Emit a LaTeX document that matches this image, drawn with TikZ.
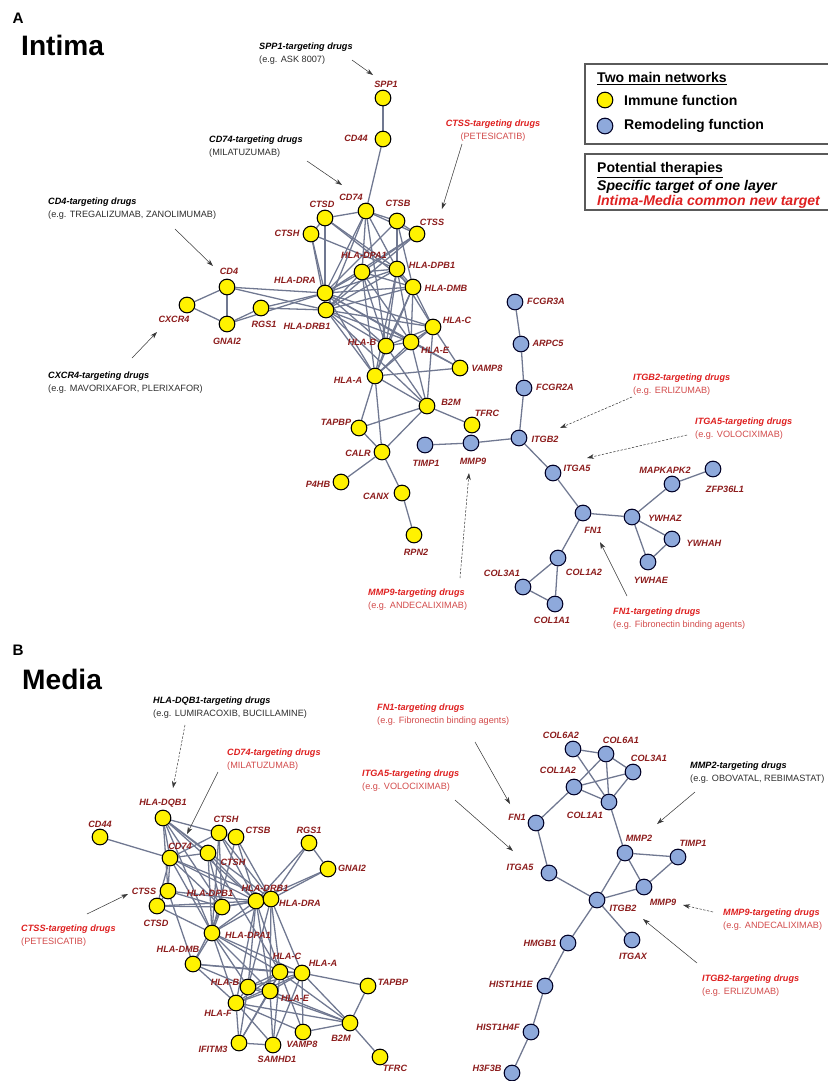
\documentclass[tikz,border=0pt]{standalone}
\usepackage{fontspec}
\setmainfont{Liberation Sans}
\usetikzlibrary{arrows.meta,backgrounds}
\definecolor{nodeyellow}{RGB}{255,242,0}
\definecolor{nodeblue}{RGB}{142,169,219}
\definecolor{edgecol}{RGB}{112,120,145}
\definecolor{genered}{RGB}{140,28,28}
\definecolor{drugred}{RGB}{222,32,32}
\definecolor{drugredlt}{RGB}{210,75,75}
\definecolor{subgray}{RGB}{45,45,45}
\definecolor{arrowcol}{RGB}{55,55,55}
\definecolor{boxcol}{RGB}{90,90,90}
\tikzset{
  yn/.style={circle,draw=black,line width=0.9pt,fill=nodeyellow,minimum size=0.47cm,inner sep=0pt},
  bn/.style={circle,draw=black!85!blue,line width=0.9pt,fill=nodeblue,minimum size=0.47cm,inner sep=0pt},
  gl/.style={font=\bfseries\itshape\fontsize{7.8}{9}\selectfont,text=genered,inner sep=0pt},
  ed/.style={draw=edgecol,line width=1.1pt},
  arr/.style={draw=arrowcol,line width=0.45pt,-{Stealth[length=6pt,width=4pt]}},
  darr/.style={arr,dash pattern=on 2pt off 1.3pt},
  dtext/.style={anchor=west,align=left,inner sep=0pt,font=\fontsize{7.8}{11}\selectfont},
  ctext/.style={anchor=center,align=center,inner sep=0pt,font=\fontsize{7.8}{11}\selectfont},
  ttl/.style={anchor=west,inner sep=0pt,font=\bfseries\fontsize{24}{28}\selectfont},
  plab/.style={anchor=center,inner sep=0pt,font=\bfseries\fontsize{13}{15}\selectfont},
  legt/.style={anchor=west,inner sep=0pt,font=\bfseries\fontsize{12}{14}\selectfont},
  legbox/.style={draw=boxcol,line width=1.3pt}
}
\newcommand{\gnode}[5]{\node[#1] (#2) at (#3) {}; \node[gl] (#2-l) at (#4) {#5};}
\newcommand{\drugB}[4]{\node[dtext] (#1) at (#2) {\textbf{\textit{#3}}\\{\color{subgray}#4}};}
\newcommand{\drugR}[4]{\node[dtext] (#1) at (#2) {{\color{drugred}\textbf{\textit{#3}}}\\{\color{drugredlt}#4}};}
\begin{document}
\begin{tikzpicture}[x=0.03cm,y=-0.03cm]
\useasboundingbox (0,0) rectangle (827,1081);

% ---------- Panel A ----------
\node[plab] (pa) at (18,18) {A};
\node[ttl] (tintima) at (21,45) {Intima};

% legend
\draw[legbox] (585,64) rectangle (850,144);
\draw[legbox] (585,154) rectangle (850,210);
\node[legt] (lg1) at (597,79) {\underline{Two main networks}};
\node[yn] (lgy) at (605,100) {};
\node[legt] (lgy-t) at (624,100) {Immune function};
\node[bn] (lgb) at (605,126) {};
\node[legt] (lgb-t) at (624,126) {Remodeling function};
\node[legt] (lg2) at (597,170) {\underline{Potential therapies}};
\node[legt] (lg3) at (597,187) {\textit{Specific target of one layer}};
\node[legt,text=drugred] (lg4) at (597,202) {\textit{Intima-Media common new target}};

% Intima immune nodes
\gnode{yn}{spp1}{383,98}{386,84}{SPP1}
\gnode{yn}{cd44i}{383,139}{356,138}{CD44}
\gnode{yn}{cd74}{366,211}{351,197}{CD74}
\gnode{yn}{ctsd}{325,218}{322,204}{CTSD}
\gnode{yn}{ctsb}{397,221}{398,203}{CTSB}
\gnode{yn}{ctss}{417,234}{432,222}{CTSS}
\gnode{yn}{ctsh}{311,234}{287,233}{CTSH}
\gnode{yn}{dpa1}{362,272}{364,255}{HLA-DPA1}
\gnode{yn}{dpb1}{397,269}{432,265}{HLA-DPB1}
\gnode{yn}{dmb}{413,287}{446,288}{HLA-DMB}
\gnode{yn}{dra}{325,293}{295,280}{HLA-DRA}
\gnode{yn}{drb1}{326,310}{307,326}{HLA-DRB1}
\gnode{yn}{hlac}{433,327}{457,320}{HLA-C}
\gnode{yn}{hlab}{386,346}{362,342}{HLA-B}
\gnode{yn}{hlae}{411,342}{435,350}{HLA-E}
\gnode{yn}{hlaa}{375,376}{348,380}{HLA-A}
\gnode{yn}{vamp8}{460,368}{487,368}{VAMP8}
\gnode{yn}{b2m}{427,406}{451,402}{B2M}
\gnode{yn}{tfrc}{472,425}{487,413}{TFRC}
\gnode{yn}{tapbp}{359,428}{336,422}{TAPBP}
\gnode{yn}{calr}{382,452}{358,453}{CALR}
\gnode{yn}{p4hb}{341,482}{318,484}{P4HB}
\gnode{yn}{canx}{402,493}{376,496}{CANX}
\gnode{yn}{rpn2}{414,535}{416,552}{RPN2}
\gnode{yn}{cd4}{227,287}{229,271}{CD4}
\gnode{yn}{cxcr4}{187,305}{174,319}{CXCR4}
\gnode{yn}{rgs1}{261,308}{264,324}{RGS1}
\gnode{yn}{gnai2}{227,324}{227,341}{GNAI2}

% Intima remodeling nodes
\gnode{bn}{fcgr3a}{515,302}{546,301}{FCGR3A}
\gnode{bn}{arpc5}{521,344}{548,343}{ARPC5}
\gnode{bn}{fcgr2a}{524,388}{555,387}{FCGR2A}
\gnode{bn}{itgb2}{519,438}{545,439}{ITGB2}
\gnode{bn}{timp1}{425,445}{426,463}{TIMP1}
\gnode{bn}{mmp9}{471,443}{473,461}{MMP9}
\gnode{bn}{itga5}{553,473}{577,468}{ITGA5}
\gnode{bn}{fn1}{583,513}{593,530}{FN1}
\gnode{bn}{ywhaz}{632,517}{665,518}{YWHAZ}
\gnode{bn}{mapkapk2}{672,484}{665,470}{MAPKAPK2}
\gnode{bn}{zfp36l1}{713,469}{725,489}{ZFP36L1}
\gnode{bn}{ywhah}{672,539}{704,543}{YWHAH}
\gnode{bn}{ywhae}{648,562}{651,580}{YWHAE}
\gnode{bn}{col1a2}{558,558}{584,572}{COL1A2}
\gnode{bn}{col3a1}{523,587}{502,573}{COL3A1}
\gnode{bn}{col1a1}{555,604}{552,620}{COL1A1}

\begin{pgfonlayer}{background}
\foreach \a/\b in {spp1/cd44i,cd44i/cd74,
 cd4/cxcr4,cxcr4/gnai2,cd4/gnai2,gnai2/rgs1,cd4/dra,cd4/drb1,rgs1/dra,rgs1/drb1,gnai2/dra,
 ctsd/cd74,ctsd/ctsh,ctsh/dra,ctsd/dra,ctsh/drb1,cd74/ctsb,ctsb/ctss,cd74/dra,cd74/dpa1,cd74/dpb1,cd74/drb1,cd74/ctss,cd74/hlab,
 ctsd/dpb1,ctsh/dpb1,ctss/dra,ctss/dpa1,ctss/drb1,ctsb/dra,ctsb/dpb1,ctsb/dmb,ctsd/dmb,
 dpa1/dra,dpa1/drb1,dpa1/dpb1,dpb1/dra,dpb1/drb1,dmb/dra,dmb/drb1,dmb/dpa1,dmb/dpb1,dmb/hlac,dmb/hlab,dmb/hlae,dmb/hlaa,
 dra/hlac,dra/hlab,dra/hlae,dra/hlaa,drb1/hlaa,drb1/hlab,drb1/hlac,drb1/hlae,drb1/b2m,dra/vamp8,
 dpa1/hlaa,dpa1/hlab,dpa1/hlae,dpb1/hlaa,dpb1/hlab,dpb1/hlae,dpb1/hlac,
 hlac/hlab,hlac/hlae,hlac/hlaa,hlac/vamp8,hlac/b2m,hlab/hlae,hlab/hlaa,hlab/b2m,hlae/hlaa,hlae/b2m,hlae/vamp8,
 hlaa/vamp8,hlaa/b2m,hlaa/tapbp,hlaa/calr,b2m/tapbp,b2m/calr,b2m/tfrc,tapbp/calr,calr/p4hb,calr/canx,canx/rpn2,
 fcgr3a/arpc5,arpc5/fcgr2a,fcgr2a/itgb2,itgb2/mmp9,mmp9/timp1,itgb2/itga5,itga5/fn1,fn1/ywhaz,fn1/col1a2,
 col1a2/col3a1,col1a2/col1a1,col3a1/col1a1,ywhaz/mapkapk2,mapkapk2/zfp36l1,ywhaz/ywhah,ywhaz/ywhae,ywhah/ywhae}
 \draw[ed] (\a) -- (\b);
\end{pgfonlayer}

% Intima annotations
\drugB{dspp1}{259,53.5}{SPP1-targeting drugs}{(e.g. ASK 8007)}
\drugB{dcd74}{209,147}{CD74-targeting drugs}{(MILATUZUMAB)}
\node[ctext] (dctss) at (493,130.5) {{\color{drugred}\textbf{\textit{CTSS-targeting drugs}}}\\{\color{drugredlt}(PETESICATIB)}};
\drugB{dcd4}{48,208.5}{CD4-targeting drugs}{(e.g. TREGALIZUMAB, ZANOLIMUMAB)}
\drugB{dcxcr4}{48,382.5}{CXCR4-targeting drugs}{(e.g. MAVORIXAFOR, PLERIXAFOR)}
\drugR{ditgb2}{633,384.5}{ITGB2-targeting drugs}{(e.g. ERLIZUMAB)}
\drugR{ditga5}{695,428.5}{ITGA5-targeting drugs}{(e.g. VOLOCIXIMAB)}
\drugR{dmmp9}{368,599.5}{MMP9-targeting drugs}{(e.g. ANDECALIXIMAB)}
\drugR{dfn1}{613,618.5}{FN1-targeting drugs}{(e.g. Fibronectin binding agents)}

\coordinate (a1s) at (352,60); \coordinate (a1e) at (373,75);
\coordinate (a2s) at (307,161); \coordinate (a2e) at (342,185);
\coordinate (a3s) at (462,144); \coordinate (a3e) at (442,209);
\coordinate (a4s) at (175,229); \coordinate (a4e) at (213,266);
\coordinate (a5s) at (132,358); \coordinate (a5e) at (157,332);
\coordinate (a6s) at (632,397); \coordinate (a6e) at (560,428);
\coordinate (a7s) at (687,435); \coordinate (a7e) at (587,458);
\coordinate (a8s) at (460,578); \coordinate (a8e) at (469,473);
\coordinate (a9s) at (627,596); \coordinate (a9e) at (600,542);
\draw[arr] (a1s) -- (a1e);
\draw[arr] (a2s) -- (a2e);
\draw[arr] (a3s) -- (a3e);
\draw[arr] (a4s) -- (a4e);
\draw[arr] (a5s) -- (a5e);
\draw[darr] (a6s) -- (a6e);
\draw[darr] (a7s) -- (a7e);
\draw[darr] (a8s) -- (a8e);
\draw[arr] (a9s) -- (a9e);

% ---------- Panel B ----------
\node[plab] (pb) at (18,650) {B};
\node[ttl] (tmedia) at (22,679) {Media};

% Media immune nodes
\gnode{yn}{cd44m}{100,837}{100,824}{CD44}
\gnode{yn}{dqb1}{163,818}{163,803}{HLA-DQB1}
\gnode{yn}{ctshA}{219,833}{226,819}{CTSH}
\gnode{yn}{ctsbm}{236,837}{258,830}{CTSB}
\gnode{yn}{rgs1m}{309,843}{309,830}{RGS1}
\gnode{yn}{cd74m}{170,858}{180,846}{CD74}
\gnode{yn}{ctshB}{208,853}{233,862}{CTSH}
\gnode{yn}{gnai2m}{328,869}{352,868}{GNAI2}
\gnode{yn}{ctssm}{168,891}{144,891}{CTSS}
\gnode{yn}{ctsdm}{157,906}{156,923}{CTSD}
\gnode{yn}{dpb1m}{222,907}{210,893}{HLA-DPB1}
\gnode{yn}{drb1m}{256,901}{265,888}{HLA-DRB1}
\gnode{yn}{dram}{271,899}{300,903}{HLA-DRA}
\gnode{yn}{dpa1m}{212,933}{248,935}{HLA-DPA1}
\gnode{yn}{dmbm}{193,964}{178,949}{HLA-DMB}
\gnode{yn}{hlacm}{280,972}{287,956}{HLA-C}
\gnode{yn}{hlaam}{302,973}{323,963}{HLA-A}
\gnode{yn}{hlabm}{248,987}{225,982}{HLA-B}
\gnode{yn}{hlaem}{270,991}{295,998}{HLA-E}
\gnode{yn}{hlafm}{236,1003}{218,1013}{HLA-F}
\gnode{yn}{tapbpm}{368,986}{393,982}{TAPBP}
\gnode{yn}{b2mm}{350,1023}{341,1038}{B2M}
\gnode{yn}{tfrcm}{380,1057}{395,1068}{TFRC}
\gnode{yn}{vamp8m}{303,1032}{302,1044}{VAMP8}
\gnode{yn}{samhd1m}{273,1045}{277,1059}{SAMHD1}
\gnode{yn}{ifitm3m}{239,1043}{213,1049}{IFITM3}

% Media remodeling nodes
\gnode{bn}{col6a2}{573,749}{561,735}{COL6A2}
\gnode{bn}{col6a1}{606,754}{621,740}{COL6A1}
\gnode{bn}{col3a1m}{633,772}{649,758}{COL3A1}
\gnode{bn}{col1a2m}{574,787}{558,770}{COL1A2}
\gnode{bn}{col1a1m}{609,802}{585,815}{COL1A1}
\gnode{bn}{fn1m}{536,823}{517,817}{FN1}
\gnode{bn}{itga5m}{549,873}{520,867}{ITGA5}
\gnode{bn}{mmp2}{625,853}{639,838}{MMP2}
\gnode{bn}{timp1m}{678,857}{693,843}{TIMP1}
\gnode{bn}{mmp9m}{644,887}{663,902}{MMP9}
\gnode{bn}{itgb2m}{597,900}{623,908}{ITGB2}
\gnode{bn}{itgaxm}{632,940}{633,956}{ITGAX}
\gnode{bn}{hmgb1}{568,943}{540,943}{HMGB1}
\gnode{bn}{hist1h1e}{545,986}{511,984}{HIST1H1E}
\gnode{bn}{hist1h4f}{531,1032}{498,1027}{HIST1H4F}
\gnode{bn}{h3f3b}{512,1073}{487,1068}{H3F3B}

\begin{pgfonlayer}{background}
\foreach \a/\b in {cd44m/cd74m,dqb1/ctshA,dqb1/cd74m,dqb1/ctssm,dqb1/ctshB,dqb1/drb1m,dqb1/dram,dqb1/dpb1m,dqb1/dpa1m,
 ctshA/ctsbm,ctshA/cd74m,ctshA/drb1m,ctshA/dram,ctshA/dpb1m,ctshA/dpa1m,ctsbm/dram,ctsbm/drb1m,ctsbm/dpa1m,
 cd74m/ctshB,cd74m/ctssm,cd74m/dpb1m,cd74m/drb1m,cd74m/dram,cd74m/dpa1m,cd74m/ctsdm,
 ctshB/dpa1m,ctshB/drb1m,ctshB/dpb1m,ctshB/hlacm,
 ctssm/ctsdm,ctssm/dpb1m,ctssm/drb1m,ctssm/dmbm,ctsdm/dpb1m,ctsdm/drb1m,ctsdm/dpa1m,
 dpb1m/drb1m,dpb1m/dpa1m,dpb1m/dmbm,dpb1m/dram,drb1m/dpa1m,dram/dpa1m,drb1m/dram,
 rgs1m/drb1m,rgs1m/dram,rgs1m/gnai2m,gnai2m/dram,gnai2m/drb1m,
 dram/hlacm,dram/hlaam,dram/hlaem,dram/hlabm,drb1m/hlafm,drb1m/hlabm,drb1m/hlacm,drb1m/hlaem,
 dpa1m/hlacm,dpa1m/hlaam,dpa1m/hlafm,dpa1m/hlaem,dpa1m/hlabm,dpa1m/dmbm,
 dmbm/hlacm,dmbm/hlaam,dmbm/hlafm,dmbm/hlabm,
 hlacm/hlaam,hlacm/hlabm,hlacm/hlaem,hlacm/hlafm,hlaam/hlabm,hlaam/hlaem,hlaam/tapbpm,hlaam/b2mm,hlaam/hlafm,
 hlabm/hlaem,hlabm/hlafm,hlaem/hlafm,hlafm/ifitm3m,hlafm/samhd1m,hlafm/b2mm,hlafm/vamp8m,hlabm/ifitm3m,
 hlaem/samhd1m,hlacm/samhd1m,hlacm/vamp8m,hlaam/vamp8m,ifitm3m/samhd1m,ifitm3m/hlaem,ifitm3m/hlacm,samhd1m/hlaam,
 vamp8m/b2mm,tapbpm/b2mm,b2mm/tfrcm,hlabm/b2mm,hlaem/b2mm,hlacm/b2mm,
 col6a2/col6a1,col6a2/col1a1m,col6a1/col1a2m,col6a1/col1a1m,col6a1/col3a1m,col1a2m/col3a1m,col1a2m/col1a1m,col3a1m/col1a1m,
 col1a2m/fn1m,fn1m/itga5m,itga5m/itgb2m,col1a1m/mmp2,mmp2/timp1m,mmp2/mmp9m,timp1m/mmp9m,mmp2/itgb2m,itgb2m/mmp9m,
 itgb2m/itgaxm,itgb2m/hmgb1,hmgb1/hist1h1e,hist1h1e/hist1h4f,hist1h4f/h3f3b}
 \draw[ed] (\a) -- (\b);
\end{pgfonlayer}

% Media annotations
\drugB{ddqb1}{153,708}{HLA-DQB1-targeting drugs}{(e.g. LUMIRACOXIB, BUCILLAMINE)}
\drugR{dcd74m}{227,759.5}{CD74-targeting drugs}{(MILATUZUMAB)}
\drugR{dctssm}{21,935.5}{CTSS-targeting drugs}{(PETESICATIB)}
\drugR{dfn1m}{377,715}{FN1-targeting drugs}{(e.g. Fibronectin binding agents)}
\drugR{ditga5m}{362,780.5}{ITGA5-targeting drugs}{(e.g. VOLOCIXIMAB)}
\drugB{dmmp2}{690,773}{MMP2-targeting drugs}{(e.g. OBOVATAL, REBIMASTAT)}
\drugR{dmmp9m}{723,919.5}{MMP9-targeting drugs}{(e.g. ANDECALIXIMAB)}
\drugR{ditgb2m}{702,986}{ITGB2-targeting drugs}{(e.g. ERLIZUMAB)}

\coordinate (b1s) at (185,725); \coordinate (b1e) at (173,788);
\coordinate (b2s) at (218,772); \coordinate (b2e) at (187,834);
\coordinate (b3s) at (87,914); \coordinate (b3e) at (128,894);
\coordinate (b4s) at (475,742); \coordinate (b4e) at (510,804);
\coordinate (b5s) at (455,800); \coordinate (b5e) at (513,851);
\coordinate (b6s) at (695,792); \coordinate (b6e) at (657,824);
\coordinate (b7s) at (713,912); \coordinate (b7e) at (683,905);
\coordinate (b8s) at (697,963); \coordinate (b8e) at (643,919);
\draw[darr] (b1s) -- (b1e);
\draw[arr] (b2s) -- (b2e);
\draw[arr] (b3s) -- (b3e);
\draw[arr] (b4s) -- (b4e);
\draw[arr] (b5s) -- (b5e);
\draw[arr] (b6s) -- (b6e);
\draw[darr] (b7s) -- (b7e);
\draw[arr] (b8s) -- (b8e);
\end{tikzpicture}
\end{document}
